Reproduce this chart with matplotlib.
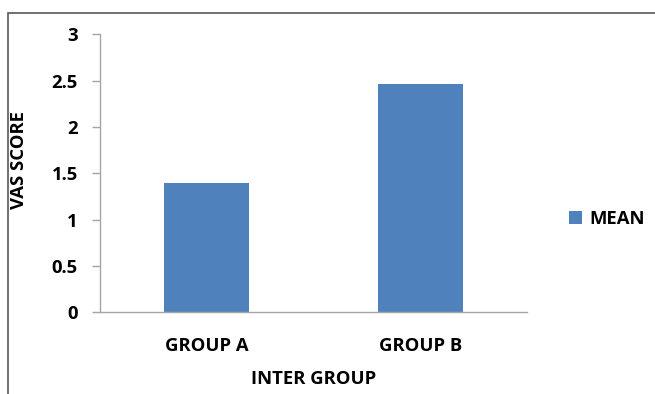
import matplotlib

matplotlib.use("Agg")
import matplotlib.pyplot as plt
from matplotlib.patches import Rectangle

plt.rcParams["font.family"] = ["Open Sans", "DejaVu Sans"]
plt.rcParams["font.weight"] = "bold"

groups = ["GROUP A", "GROUP B"]
mean_vas = [1.39, 2.46]
y_ticks = [0, 0.5, 1, 1.5, 2, 2.5, 3]
y_tick_labels = ["0", "0.5", "1", "1.5", "2", "2.5", "3"]

BAR_COLOR = "#4f81bd"
AXIS_GRAY = "#a6a6a6"
FS = 13.3

fig = plt.figure(figsize=(6.55, 3.94), dpi=100)
W, H = 655, 394

# plot area in pixel terms, converted to figure fractions
left, right, top, bottom = 100, 527, 34.3, 312.3
ax = fig.add_axes([left / W, 1 - bottom / H, (right - left) / W, (bottom - top) / H])

x = range(len(groups))
ax.bar(x, mean_vas, width=0.4, color=BAR_COLOR, label="MEAN", zorder=2)

ax.set_xlim(-0.5, len(groups) - 0.5)
ax.set_ylim(0, 3)
ax.set_xticks(list(x))
ax.set_xticklabels(groups, fontsize=FS, fontweight="bold")
ax.set_yticks(y_ticks)
ax.set_yticklabels(y_tick_labels, fontsize=FS, fontweight="bold")

for side in ("top", "right"):
    ax.spines[side].set_visible(False)
for side in ("left", "bottom"):
    ax.spines[side].set_color(AXIS_GRAY)
    ax.spines[side].set_linewidth(1.0)
ax.tick_params(axis="y", length=6, width=1.0, color=AXIS_GRAY, pad=10)
ax.tick_params(axis="x", length=0, pad=18)

ax.set_xlabel("INTER GROUP", fontsize=FS, fontweight="bold")
ax.xaxis.set_label_coords(0.5, (312.3 - 370) / 278)
ax.set_ylabel("VAS SCORE", fontsize=FS, fontweight="bold")
ax.yaxis.set_label_coords((28 - 100) / 427, (312.3 - 160) / 278)

leg = fig.legend(loc="center left", bbox_to_anchor=(552 / W, 1 - 219 / H),
                 frameon=False, fontsize=FS, handlelength=0.7,
                 handleheight=0.7, handletextpad=0.4)

# outer chart border (runs past the right and bottom edges)
fig.patches.append(Rectangle((8 / W, -0.1), 1.2, 1 - 12.7 / H + 0.1,
                             transform=fig.transFigure, fill=False,
                             edgecolor="#595959", linewidth=1.2))

fig.savefig("out.png", dpi=100)
